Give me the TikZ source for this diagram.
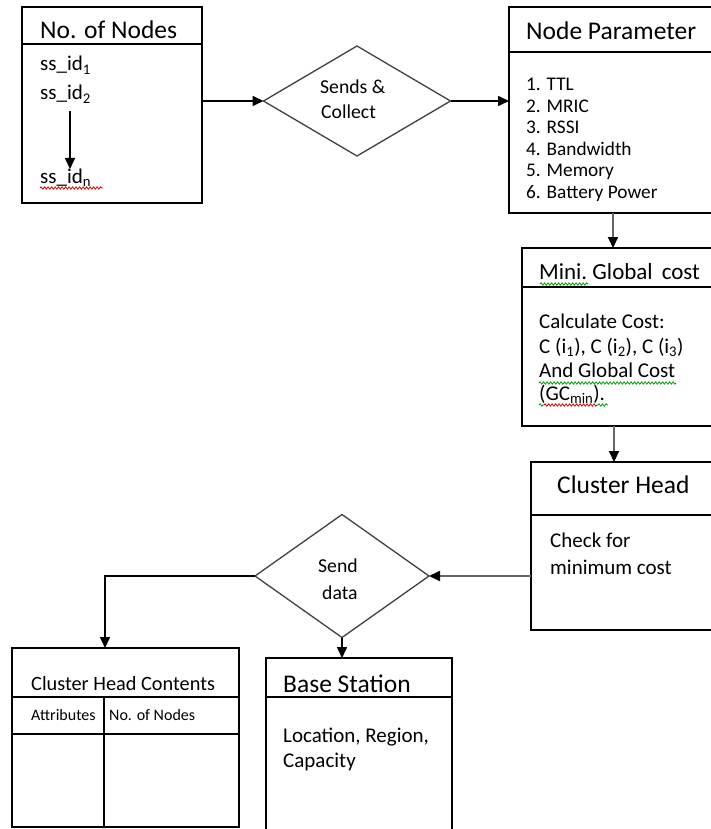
\documentclass[tikz,border=0pt]{standalone}
\usepackage{fontspec}
\setmainfont{Carlito}
\usetikzlibrary{arrows.meta,shapes.geometric,decorations.pathmorphing}
\begin{document}
\begin{tikzpicture}[x=1pt,y=-1pt,
  box/.style={draw, line width=1.6pt, inner sep=0pt, outer sep=0pt, anchor=north west},
  dia/.style={draw=black!75, line width=1.3pt, diamond, inner sep=0pt, outer sep=0pt},
  ln/.style={line width=1.6pt},
  arr/.style={line width=1.6pt, -{Triangle[length=11pt,width=10pt]}},
  garr/.style={draw=black!60, line width=2pt, -{Triangle[length=11pt,width=10pt,color=black]}},
  ttl/.style={anchor=base west, inner sep=0pt, font=\fontsize{25.5pt}{30pt}\selectfont},
  bod/.style={anchor=base west, inner sep=0pt, font=\fontsize{21pt}{25pt}\selectfont},
  lst/.style={anchor=base west, inner sep=0pt, font=\fontsize{19.3pt}{23pt}\selectfont},
  dtx/.style={anchor=base west, inner sep=0pt, font=\fontsize{19.7pt}{23pt}\selectfont},
  sml/.style={anchor=base west, inner sep=0pt, font=\fontsize{16pt}{19pt}\selectfont},
  sqr/.style={draw=red!85!black, line width=0.8pt, decorate, decoration={snake, segment length=3.5pt, amplitude=1.2pt}},
  sqg/.style={draw=green!60!black, line width=0.8pt, decorate, decoration={snake, segment length=3.5pt, amplitude=1.2pt}}
]
\useasboundingbox (0,0) rectangle (711,829);

% ---------- Box 1: No. of Nodes ----------
\node[box, minimum width=180pt, minimum height=196pt] (b1) at (22,7) {};
\draw[ln] (b1.west |- 0,44) -- (b1.east |- 0,44);
\node[ttl] (t1) at (40,39) {No. of Nodes};
\node[bod] (s1) at (40,71) {ss\_id\textsubscript{1}};
\node[bod] (s2) at (40,100) {ss\_id\textsubscript{2}};
\node[bod] (sn) at (40,183) {ss\_id\textsubscript{n}};
\coordinate (sa) at (70,111);
\coordinate (sb) at (70,169);
\draw[arr] (sa) -- (sb);
\coordinate (q1a) at (40,188); \coordinate (q1b) at (103,188);
\draw[sqr] (q1a) -- (q1b);

% ---------- Diamond 1 ----------
\node[dia, minimum width=187pt, minimum height=110pt] (d1) at (357,101) {};
\node[dtx] (d1a) at (320,94) {Sends \&};
\node[dtx] (d1b) at (321,119) {Collect};

% ---------- Box 2: Node Parameter ----------
\node[box, minimum width=210pt, minimum height=206pt] (b2) at (509,7) {};
\draw[ln] (b2.west |- 0,52) -- (b2.east |- 0,52);
\node[ttl] (t2) at (526,40) {Node Parameter};
\node[lst] (p1) at (526,91) {1. TTL};
\node[lst] (p2) at (526,112.5) {2. MRIC};
\node[lst] (p3) at (526,134) {3. RSSI};
\node[lst] (p4) at (526,155.5) {4. Bandwidth};
\node[lst] (p5) at (526,177) {5. Memory};
\node[lst] (p6) at (526,198.5) {6. Battery Power};

% ---------- Box 3: Mini. Global cost ----------
\node[box, minimum width=200pt, minimum height=178pt] (b3) at (522,248) {};
\draw[ln] (b3.west |- 0,287) -- (b3.east |- 0,287);
\node[anchor=base west, inner sep=0pt, font=\fontsize{23pt}{27pt}\selectfont] (t3) at (539,279) {Mini.\ Global\ \,cost};
\node[bod] (c1) at (539,328) {Calculate Cost:};
\node[bod] (c2) at (539,353) {C (i\textsubscript{1}), C (i\textsubscript{2}), C (i\textsubscript{3})};
\node[bod] (c3) at (539,377) {And Global Cost};
\node[bod] (c4) at (539,400) {(GC\textsubscript{min}).};
\coordinate (q2a) at (540,284); \coordinate (q2b) at (588,284);
\draw[sqg] (q2a) -- (q2b);
\coordinate (q3a) at (539,383); \coordinate (q3b) at (676,383);
\draw[sqg] (q3a) -- (q3b);
\coordinate (q4a) at (539,405); \coordinate (q4b) at (544,405);
\coordinate (q4c) at (544,405); \coordinate (q4d) at (598,405);
\coordinate (q4e) at (598,405); \coordinate (q4f) at (608,405);
\draw[sqg] (q4a) -- (q4b);
\draw[sqr] (q4c) -- (q4d);
\draw[sqg] (q4e) -- (q4f);

% ---------- Box 4: Cluster Head ----------
\node[box, minimum width=190pt, minimum height=168pt] (b4) at (531,462) {};
\draw[ln] (b4.west |- 0,515) -- (b4.east |- 0,515);
\node[ttl] (t4) at (557,493) {Cluster Head};
\node[bod] (k1) at (550,547) {Check for};
\node[bod] (k2) at (550,574) {minimum cost};

% ---------- Diamond 2 ----------
\node[dia, minimum width=174pt, minimum height=123pt] (d2) at (342,576) {};
\node[dtx] (d2a) at (318,572) {Send};
\node[dtx] (d2b) at (322,599) {data};

% ---------- Box 5: Cluster Head Contents ----------
\node[box, minimum width=227pt, minimum height=179pt] (b5) at (12,648) {};
\draw[ln] (b5.west |- 0,697) -- (b5.east |- 0,697);
\draw[ln] (b5.west |- 0,734) -- (b5.east |- 0,734);
\coordinate (v1) at (104,697);
\draw[ln] (v1) -- (v1 |- b5.south);
\node[anchor=base west, inner sep=0pt, font=\fontsize{20.3pt}{24pt}\selectfont] (t5) at (31,690) {Cluster Head Contents};
\node[sml] (h1) at (31,720) {Attributes};
\node[sml] (h2) at (109,720) {No. of Nodes};

% ---------- Box 6: Base Station ----------
\node[box, minimum width=186pt, minimum height=190pt] (b6) at (266,658) {};
\draw[ln] (b6.west |- 0,697) -- (b6.east |- 0,697);
\node[ttl] (t6) at (283,692) {Base Station};
\node[bod] (l1) at (283,742) {Location, Region,};
\node[bod] (l2) at (283,767) {Capacity};

% ---------- Connectors ----------
\coordinate (xa) at (613,0);
\coordinate (xb) at (614,0);
\coordinate (xc) at (105,0);
\draw[arr] (b1.east |- d1.west) -- (d1.west);
\draw[arr] (d1.east) -- (b2.west |- d1.east);
\draw[garr] (b2.south -| xa) -- (b3.north -| xa);
\draw[garr] (b3.south -| xb) -- (b4.north -| xb);
\draw[garr] (b4.west |- d2.east) -- (d2.east);
\draw[arr] (d2.west) -| (b5.north -| xc);
\draw[arr] (d2.south) -- (b6.north -| d2.south);
\end{tikzpicture}
\end{document}
